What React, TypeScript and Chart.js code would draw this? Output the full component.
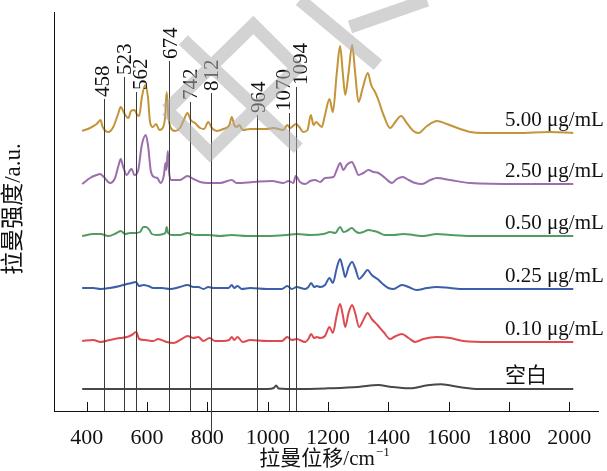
import React, { useEffect, useRef } from 'react';
import { Chart, registerables } from 'chart.js';
Chart.register(...registerables);

const SERIF = '"Liberation Serif", "Times New Roman", "Noto Sans CJK SC", serif';

// x axis
const xTicks = [400, 600, 800, 1000, 1200, 1400, 1600, 1800, 2000];
const xMin = 291.6;
const xMax = 2095;

// series (top to bottom)
const seriesLabels = ['5.00 μg/mL', '2.50 μg/mL', '0.50 μg/mL', '0.25 μg/mL', '0.10 μg/mL', '空白'];
const seriesOffsets = [278, 227, 175, 122, 69, 22];
const seriesColors = ['#c39438', '#9b6ead', '#529c63', '#3d5ea8', '#e04a4f', '#4d4646'];
const seriesLabelX = 1787;

// peak markers
const peakPositions = [458, 523, 562, 674, 742, 812, 964, 1070, 1094];
const peakLineTops = [312, 334, 319, 350, 309, 318, 296, 298, 324];
const peakLineBottoms = [0, 0, 0, 0, 0, -32, 0, 0, 0];
const peakLabelNudge = [-1.5, 0.5, 5.2, 1.5, 1.3, 0.7, 1.5, -4.7, 5.1];

// spectra: [wavenumber, relative intensity]
const spec500: [number, number][] = [
  [385, 2], [411, 5], [433, 9], [446, 13], [453, 6], [472, 1], [488, 6], [503, 18], [513, 26], [524, 20],
  [538, 15], [547, 22], [558, 23], [568, 18], [574, 17], [583, 36], [594, 48], [603, 36], [610, 11], [619, 6],
  [630, 9], [641, 3], [652, 5], [660, 16], [665, 41], [671, 16], [679, 5], [693, 2], [709, 5], [722, 13],
  [734, 20], [745, 13], [759, 10], [776, 5], [789, 4], [803, 11], [815, 5], [831, 2], [853, 4], [873, 8],
  [881, 16], [889, 8], [897, 6], [906, 8], [917, 3], [942, 4], [964, 4], [997, 4], [1019, 5], [1052, 3],
  [1065, 8], [1074, 5], [1094, 9], [1105, 6], [1118, 1], [1132, 3], [1143, 18], [1152, 8], [1161, 11], [1168, 9],
  [1179, 6], [1190, 18], [1205, 34], [1216, 21], [1229, 60], [1240, 87], [1249, 60], [1257, 38], [1268, 60], [1280, 88],
  [1290, 60], [1301, 31], [1315, 45], [1332, 60], [1343, 48], [1356, 41], [1367, 33], [1384, 18], [1406, 5], [1423, 11],
  [1442, 17], [1461, 10], [1483, 2], [1500, 0], [1528, 7], [1561, 12], [1594, 9], [1638, 4], [1671, 1], [1715, 0],
  [1826, 0], [1938, 1], [2013, 0],
];
const spec250: [number, number][] = [
  [385, 0], [411, 6], [433, 9], [444, 10], [457, 7], [477, 1], [494, 6], [505, 18], [513, 25], [521, 17],
  [533, 9], [544, 14], [549, 15], [558, 9], [571, 14], [582, 38], [596, 49], [604, 37], [612, 14], [623, 7],
  [634, 6], [645, 1], [656, 9], [661, 21], [664, 14], [669, 33], [673, 12], [680, 4], [709, 4], [734, 8],
  [754, 5], [776, 2], [803, 1], [842, 1], [881, 4], [897, 1], [953, 2], [1014, 3], [1052, 1], [1069, 3],
  [1085, 1], [1093, 8], [1107, 2], [1124, 0], [1141, 3], [1157, 4], [1174, 2], [1190, 6], [1218, 7], [1229, 14],
  [1240, 21], [1251, 14], [1262, 19], [1279, 22], [1290, 16], [1301, 9], [1317, 11], [1334, 14], [1351, 12], [1367, 11],
  [1389, 6], [1412, 1], [1428, 5], [1448, 7], [1467, 4], [1489, 1], [1511, 0], [1539, 4], [1561, 6], [1605, 4],
  [1671, 1], [1837, 0], [2013, 0],
];
const spec050: [number, number][] = [
  [385, 0], [422, 2], [446, 2], [472, 0], [499, 3], [513, 5], [527, 2], [544, 3], [560, 3], [577, 4],
  [588, 9], [597, 9], [608, 6], [616, 2], [632, 1], [654, 2], [662, 4], [665, 9], [670, 3], [682, 1],
  [709, 1], [734, 3], [759, 1], [803, 1], [842, 0], [881, 1], [931, 0], [997, 0], [1063, 1], [1097, 2],
  [1141, 1], [1185, 2], [1207, 4], [1224, 3], [1240, 9], [1251, 4], [1262, 5], [1279, 8], [1290, 5], [1303, 3],
  [1317, 4], [1334, 6], [1351, 5], [1364, 4], [1389, 1], [1417, 1], [1450, 2], [1483, 1], [1516, 0], [1561, 2],
  [1605, 1], [1671, 0], [2013, 0],
];
const spec025: [number, number][] = [
  [385, 1], [422, 1], [446, 0], [477, 1], [510, 3], [533, 5], [549, 6], [563, 7], [574, 3], [588, 4],
  [604, 3], [621, 1], [649, 1], [676, 0], [709, 2], [734, 4], [754, 2], [770, 2], [787, 0], [803, 2],
  [820, 1], [870, 1], [881, 4], [889, 1], [900, 3], [914, 0], [942, 1], [997, 0], [1047, 0], [1065, 3],
  [1080, 0], [1096, 2], [1124, 0], [1135, 2], [1144, 6], [1154, 2], [1163, 3], [1174, 2], [1190, 4], [1205, 11],
  [1216, 6], [1229, 21], [1240, 30], [1249, 21], [1257, 12], [1268, 22], [1280, 27], [1290, 21], [1303, 10], [1317, 14],
  [1331, 19], [1345, 14], [1364, 10], [1378, 6], [1400, 1], [1417, 0], [1445, 4], [1467, 2], [1494, -1], [1528, 1],
  [1561, 2], [1605, 1], [1649, 0], [2013, 0],
];
const spec010: [number, number][] = [
  [385, 1], [422, 2], [446, 0], [477, 2], [510, 4], [533, 5], [549, 7], [564, 10], [574, 3], [593, 2],
  [621, 1], [637, 3], [665, 0], [687, -1], [715, 3], [734, 6], [754, 4], [770, 5], [787, 1], [807, 4],
  [826, 1], [853, 1], [872, 2], [881, 5], [889, 2], [900, 5], [917, 0], [942, 2], [997, 1], [1047, 1],
  [1065, 5], [1080, 2], [1096, 3], [1124, 0], [1135, 3], [1144, 8], [1154, 4], [1163, 5], [1174, 4], [1190, 6],
  [1205, 15], [1216, 9], [1229, 27], [1240, 38], [1249, 27], [1257, 15], [1268, 29], [1280, 37], [1290, 29], [1303, 15],
  [1317, 22], [1331, 29], [1345, 23], [1364, 17], [1384, 10], [1406, 3], [1419, 5], [1445, 8], [1467, 4], [1489, 0],
  [1516, 3], [1561, 5], [1605, 4], [1649, 1], [1738, 0], [2013, 0],
];
const specBlank: [number, number][] = [
  [385, 0], [500, 0], [700, 0], [900, 0], [1000, 0], [1020, 1], [1028, 3.5], [1036, 0.5], [1100, 0], [1200, 0.7],
  [1300, 2], [1367, 4], [1406, 2.3], [1470, 0.7], [1530, 3.7], [1575, 4.7], [1640, 1.7], [1700, 0], [2013, 0],
];
const spectra = [spec500, spec250, spec050, spec025, spec010, specBlank];

// decorative watermark strokes (pixel space)
const watermarkPolys: [number, number][][] = [
  [[166.7, 110], [253.3, 25], [296.7, 68.3], [210, 153.3], [166.7, 110]],
  [[183.3, 40], [298.3, 148.3]],
  [[300, 0], [378, 65]],
  [[350, 27], [427, 0]],
];

const overlay = {
  id: 'overlay',
  afterDatasetsDraw(chart: any) {
    const { ctx } = chart;
    const xs = chart.scales.x;
    const ys = chart.scales.y;
    ctx.save();
    ctx.strokeStyle = '#3a3a3a';
    ctx.lineWidth = 1;
    peakPositions.forEach((p, i) => {
      const x = Math.round(xs.getPixelForValue(p)) + 0.5;
      ctx.beginPath();
      ctx.moveTo(x, ys.getPixelForValue(peakLineTops[i]));
      ctx.lineTo(x, ys.getPixelForValue(peakLineBottoms[i]));
      ctx.stroke();
      ctx.save();
      ctx.translate(x + peakLabelNudge[i], ys.getPixelForValue(peakLineTops[i] + 2));
      ctx.rotate(-Math.PI / 2);
      ctx.font = `21px ${SERIF}`;
      ctx.fillStyle = '#111';
      ctx.textAlign = 'left';
      ctx.textBaseline = 'middle';
      ctx.fillText(String(p), 0, 0);
      ctx.restore();
    });
    ctx.font = `21px ${SERIF}`;
    ctx.fillStyle = '#111';
    ctx.textAlign = 'left';
    ctx.textBaseline = 'alphabetic';
    seriesLabels.forEach((t, i) => {
      ctx.fillText(t, xs.getPixelForValue(seriesLabelX), ys.getPixelForValue(seriesOffsets[i] + 7));
    });
    ctx.restore();
  },
  afterDraw(chart: any) {
    const { ctx, chartArea } = chart;
    const xs = chart.scales.x;
    ctx.save();
    // inward ticks
    ctx.strokeStyle = '#111';
    ctx.lineWidth = 1;
    ctx.beginPath();
    xTicks.forEach((v) => {
      const x = Math.round(xs.getPixelForValue(v)) + 0.5;
      ctx.moveTo(x, chartArea.bottom);
      ctx.lineTo(x, chartArea.bottom - 9);
    });
    ctx.stroke();
    // axis titles
    ctx.fillStyle = '#111';
    ctx.save();
    ctx.translate(14, 209);
    ctx.rotate(-Math.PI / 2);
    ctx.font = `23px ${SERIF}`;
    ctx.textAlign = 'center';
    ctx.textBaseline = 'middle';
    ctx.fillText('拉曼强度/a.u.', 0, 0);
    ctx.restore();
    const main = '拉曼位移/cm';
    const sup = '−1';
    ctx.font = `21px ${SERIF}`;
    const w1 = ctx.measureText(main).width;
    ctx.font = `13px ${SERIF}`;
    const w2 = ctx.measureText(sup).width;
    const sx = 324 - (w1 + w2) / 2;
    ctx.textAlign = 'left';
    ctx.textBaseline = 'alphabetic';
    ctx.font = `21px ${SERIF}`;
    ctx.fillText(main, sx, 465);
    ctx.font = `13px ${SERIF}`;
    ctx.fillText(sup, sx + w1 + 1, 456);
    // watermark
    ctx.strokeStyle = 'rgba(175,175,175,0.55)';
    ctx.lineWidth = 13;
    ctx.lineJoin = 'miter';
    ctx.lineCap = 'butt';
    ctx.beginPath();
    watermarkPolys.forEach((poly) => {
      poly.forEach(([x, y], j) => (j === 0 ? ctx.moveTo(x, y) : ctx.lineTo(x, y)));
    });
    ctx.stroke();
    ctx.restore();
  },
};

export default function App() {
  const ref = useRef<HTMLCanvasElement>(null);
  useEffect(() => {
    const canvas = ref.current;
    if (!canvas) return;
    const chart = new Chart(canvas, {
      type: 'line',
      data: {
        datasets: spectra.map((s, i) => ({
          label: seriesLabels[i],
          data: s.map(([x, v]) => ({ x, y: v + seriesOffsets[i] })),
          borderColor: seriesColors[i],
          backgroundColor: seriesColors[i],
          borderWidth: 2,
          pointRadius: 0,
          fill: false,
          cubicInterpolationMode: 'monotone' as const,
        })),
      },
      options: {
        animation: false,
        responsive: true,
        maintainAspectRatio: false,
        events: [],
        layout: { padding: { left: 0, right: 9, top: 12, bottom: 0 } },
        plugins: { legend: { display: false }, tooltip: { enabled: false } },
        scales: {
          x: {
            type: 'linear',
            min: xMin,
            max: xMax,
            afterBuildTicks: (s: any) => {
              s.ticks = xTicks.map((v) => ({ value: v }));
            },
            afterFit: (s: any) => {
              s.height = 60;
            },
            grid: { display: false, drawTicks: false },
            border: { display: true, color: '#111', width: 1 },
            ticks: {
              font: { family: SERIF, size: 22 },
              color: '#111',
              padding: 14,
              maxRotation: 0,
              autoSkip: false,
              callback: (v: any) => String(v),
            },
          },
          y: {
            type: 'linear',
            min: 0,
            max: 399,
            afterFit: (s: any) => {
              s.width = 54;
            },
            grid: { display: false, drawTicks: false },
            border: { display: true, color: '#111', width: 1 },
            ticks: { display: false },
          },
        },
      },
      plugins: [overlay],
    } as any);
    return () => chart.destroy();
  }, []);
  return (
    <div style={{ position: 'absolute', left: 0, top: 0, width: 607, height: 471, background: '#fff' }}>
      <canvas ref={ref} />
    </div>
  );
}
